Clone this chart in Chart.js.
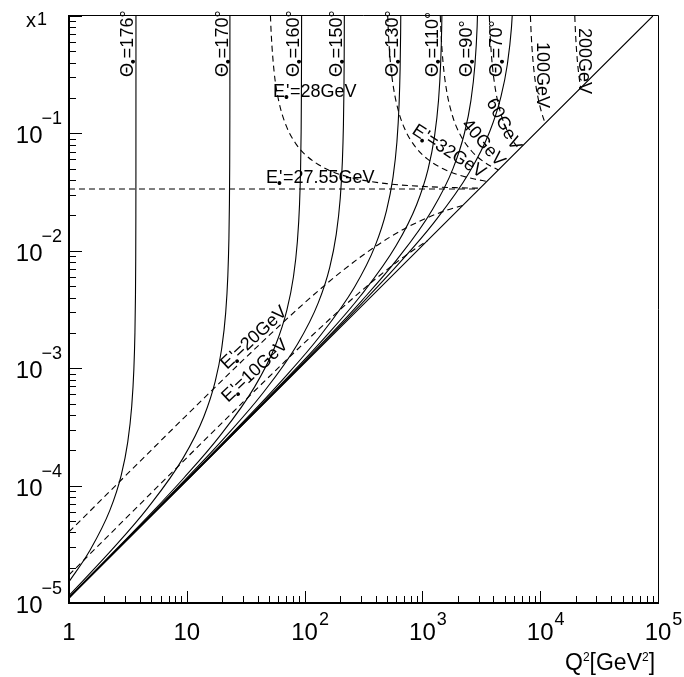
<!DOCTYPE html>
<html>
<head>
<meta charset="utf-8">
<script src="https://cdn.jsdelivr.net/npm/chart.js@4/dist/chart.umd.min.js"></script>
<style>
  html, body { margin: 0; padding: 0; background: #fff; }
  #wrap { width: 684px; height: 677px; }
</style>
</head>
<body>
<div id="wrap"><canvas id="c" width="684" height="677"></canvas></div>
<script>
// HERA kinematic plane (Ee = 27.55 GeV, Ep = 820 GeV): x versus Q^2
// Points are [Q^2 in GeV^2, x]

// kinematic limit y = 1
const kinLimit = [[1, 1.1066e-5], [90364, 1.0]];

// constant electron scattering angle (solid)
const theta176 = [[1,1.5161e-5],[1.4809,2.7314e-5],[2.2214,6.1457e-5],[2.7767,1.2291e-4],[3.1470,2.3217e-4],[3.4061,4.7117e-4],[3.5542,9.833e-4],[3.6283,2.0076e-3],[3.6653,4.0561e-3],[3.6838,8.1532e-3],[3.6949,2.0445e-2],[3.6986,4.0930e-2],[3.7019,0.40967],[3.7023,4.097]];
const theta170 = [[1,1.1564e-5],[2.3238,2.8573e-5],[4.6476,6.429e-5],[9.2952,1.7144e-4],[13.943,3.8574e-4],[17.429,7.7148e-4],[19.752,1.4573e-3],[21.379,2.9573e-3],[22.308,6.1718e-3],[22.773,1.2601e-2],[23.006,2.5459e-2],[23.122,5.1175e-2],[23.192,0.12832],[23.215,0.25690],[23.236,2.5713]];
const theta160 = [[1,1.1185e-5],[4.7195,5.4977e-5],[9.439,1.1606e-4],[18.878,2.6114e-4],[37.756,6.9637e-4],[56.634,1.5668e-3],[70.793,3.1337e-3],[80.232,5.9191e-3],[86.839,1.2012e-2],[90.614,2.5069e-2],[92.502,5.1183e-2],[93.446,0.10341],[93.918,0.20787],[94.201,0.52123],[94.296,1.0435]];
const theta150 = [[1,1.1117e-5],[10.899,1.2696e-4],[21.797,2.6802e-4],[43.594,6.0305e-4],[87.188,1.6081e-3],[130.78,3.6183e-3],[163.48,7.2366e-3],[185.27,1.3669e-2],[200.53,2.7740e-2],[209.25,5.7893e-2],[213.61,0.11820],[215.79,0.23881],[216.88,0.48003],[217.53,1.2037]];
const theta130 = [[1,1.1083e-5],[33.008,3.8450e-4],[66.016,8.1172e-4],[132.03,1.8264e-3],[264.06,4.8703e-3],[396.10,1.0958e-2],[495.12,2.1917e-2],[561.14,4.1398e-2],[607.35,8.4013e-2],[633.75,0.17533],[646.96,0.35797],[653.56,0.72324],[656.86,1.4538]];
const theta110 = [[1,1.1074e-5],[74.425,8.6695e-4],[148.85,1.8302e-3],[297.70,4.1180e-3],[595.40,1.0981e-2],[893.10,2.4708e-2],[1116.4,4.9416e-2],[1265.2,9.3341e-2],[1369.4,0.18943],[1429.0,0.39533],[1458.7,0.80713],[1473.6,1.6307]];
const theta90  = [[1,1.1070e-5],[151.80,1.7683e-3],[303.60,3.7331e-3],[607.20,8.3995e-3],[1214.4,2.2399e-2],[1821.6,5.0397e-2],[2277.0,0.10079],[2580.6,0.19039],[2793.1,0.38638],[2914.6,0.80635],[2975.3,1.6463]];
const theta70  = [[1,1.1068e-5],[123.85,1.3985e-3],[309.62,3.6066e-3],[619.23,7.6140e-3],[1238.5,1.7132e-2],[2476.9,4.5684e-2],[3715.4,0.10279],[4644.2,0.20558],[5263.5,0.38831],[5696.9,0.78805],[5944.6,1.6446]];

// constant scattered electron energy (dashed)
const e10   = [[1,1.7363e-5],[10,1.7283e-4],[30,5.1320e-4],[100,1.6518e-3],[200,3.1488e-3],[400,5.7580e-3],[700,8.9289e-3],[1102,1.2195e-2]];
const e20   = [[1,4.0333e-5],[10,3.9902e-4],[30,1.1693e-3],[100,3.6049e-3],[200,6.5112e-3],[400,1.0908e-2],[700,1.5351e-2],[1100,1.9129e-2],[1600,2.2104e-2],[2204,2.4390e-2]];
const e2755 = [[1,3.3598e-2],[3036,3.3598e-2]];
const e28   = [[51.3,1.0079],[52,0.72493],[55,0.34157],[60,0.19365],[70,0.11523],[85,0.080652],[100,0.066649],[150,0.050192],[250,0.041912],[500,0.037297],[1000,0.035351],[2000,0.034452],[3085.6,0.034147]];
const e32   = [[507.44,1.0],[510,0.87378],[520,0.59003],[540,0.36571],[570,0.24056],[620,0.16072],[700,0.11220],[850,0.079414],[1100,0.060625],[1500,0.049917],[2000,0.044512],[2700,0.041054],[3526.4,0.039025]];
const e40   = [[1419.69,1.0],[1430,0.82824],[1450,0.62449],[1500,0.39369],[1600,0.23576],[1800,0.14130],[2100,0.096916],[2600,0.071135],[3300,0.057507],[4408,0.048781]];
const e60   = [[3700.3,1.0],[3720,0.86788],[3760,0.68653],[3850,0.47207],[4000,0.31695],[4300,0.19954],[4800,0.13176],[5600,0.092958],[6612,0.073171]];
const e100  = [[8261.6,1.0],[8300,0.88245],[8400,0.67840],[8600,0.46906],[9000,0.29762],[9600,0.19959],[10300,0.14942],[11020,0.12195]];
const e200  = [[19665,1.0],[19750,0.88948],[20000,0.67465],[20400,0.49097],[21000,0.35348],[21500,0.28940],[22040,0.24391]];

const solidCurves  = [kinLimit, theta176, theta170, theta160, theta150, theta130, theta110, theta90, theta70];
const dashedCurves = [e10, e20, e2755, e28, e32, e40, e60, e100, e200];

// axis ticks and their labels
const xMajor = [1, 10, 100, 1000, 10000, 100000];
const xTickText = [['1', ''], ['10', ''], ['10', '2'], ['10', '3'], ['10', '4'], ['10', '5']];
const yMajor = [1e-5, 1e-4, 1e-3, 1e-2, 1e-1];
const yTickText = [['10', '\u22125'], ['10', '\u22124'], ['10', '\u22123'], ['10', '\u22122'], ['10', '\u22121']];

// curve annotations: [angle label, Q^2 anchor]
const thetaLabels = [['176', 3.494], ['170', 22.37], ['160', 89.65], ['150', 207.7], ['130', 620.8], ['110', 1356], ['90', 2637], ['70', 4740]];
const thetaLabelX = 0.302;
// [energy text, Q^2 anchor, x anchor, rotation in degrees, with "E'=" prefix]
const energyLabels = [
  ['28', 53.9, 0.2042, 0, true],
  ['27.55', 47.0, 0.03781, 0, true],
  ['32', 800.5, 0.1008, 33, true],
  ['40', 2127, 0.1179, 49, false],
  ['60', 3467, 0.1852, 62, false],
  ['100', 9393, 0.6005, 90, false],
  ['200', 21350, 0.7901, 90, false],
  ['20', 21.94, 9.654e-4, -43, true],
  ['10', 22.37, 5.053e-4, -43, true]
];

const FONT = '"Liberation Sans", Arial, Helvetica, sans-serif';
const LABEL_PX = 18;

function toXY(pts) { return pts.map(p => ({ x: p[0], y: p[1] })); }

const datasets = [];
solidCurves.forEach(c => datasets.push({
  data: toXY(c), borderColor: '#000', borderWidth: 1.1, pointRadius: 0,
  fill: false, cubicInterpolationMode: 'monotone'
}));
dashedCurves.forEach(c => datasets.push({
  data: toXY(c), borderColor: '#000', borderWidth: 1.1, borderDash: [6, 4], pointRadius: 0,
  fill: false, cubicInterpolationMode: 'monotone'
}));

// draws a run of text pieces along a baseline; a piece with stack:true
// does not advance, so the next piece sits on top of it (sub + superscript)
function drawRich(ctx, parts, x, y, angle) {
  ctx.save();
  ctx.translate(x, y);
  ctx.rotate(angle * Math.PI / 180);
  ctx.textAlign = 'left';
  ctx.textBaseline = 'alphabetic';
  let cx = 0, held = 0;
  for (const p of parts) {
    ctx.font = p.size + 'px ' + FONT;
    const w = ctx.measureText(p.t).width;
    ctx.fillText(p.t, cx + (p.dx || 0), p.dy || 0);
    if (p.stack) { held = w; }
    else { cx += Math.max(w, held); held = 0; }
  }
  ctx.restore();
}

function thetaParts(deg) {
  return [
    { t: '\u0398', size: LABEL_PX },
    { t: '\u2022', size: 14, dy: 5, dx: -1 },
    { t: '=' + deg + '\u00b0', size: LABEL_PX }
  ];
}
function energyParts(val, prefix) {
  if (!prefix) return [{ t: val + 'GeV', size: LABEL_PX }];
  return [
    { t: 'E', size: LABEL_PX },
    { t: '\u2022', size: 14, dy: 5, dx: -1, stack: true },
    { t: "'", size: LABEL_PX, dx: 1 },
    { t: '=' + val + 'GeV', size: LABEL_PX }
  ];
}

const framePlugin = {
  id: 'frameAndLabels',
  afterDraw(chart) {
    const ctx = chart.ctx;
    const a = chart.chartArea;
    const xs = chart.scales.x, ys = chart.scales.y;
    ctx.save();
    ctx.strokeStyle = '#000';
    ctx.fillStyle = '#000';

    // frame: thin top/right, heavier axes
    ctx.lineWidth = 1;
    ctx.beginPath();
    ctx.moveTo(a.left, a.top - 0.5); ctx.lineTo(a.right + 0.5, a.top - 0.5);
    ctx.lineTo(a.right + 0.5, a.bottom);
    ctx.stroke();
    ctx.lineWidth = 2;
    ctx.beginPath();
    ctx.moveTo(a.left, a.top - 1); ctx.lineTo(a.left, a.bottom); ctx.lineTo(a.right + 1, a.bottom);
    ctx.stroke();

    // ticks pointing into the plot
    ctx.lineWidth = 1;
    ctx.beginPath();
    for (let i = 0; i < xMajor.length; i++) {
      const px = Math.round(xs.getPixelForValue(xMajor[i])) + 0.5;
      ctx.moveTo(px, a.bottom); ctx.lineTo(px, a.bottom - 12);
      if (i < xMajor.length - 1) {
        for (let m = 2; m <= 9; m++) {
          const q = Math.round(xs.getPixelForValue(xMajor[i] * m)) + 0.5;
          ctx.moveTo(q, a.bottom); ctx.lineTo(q, a.bottom - 7);
        }
      }
    }
    const yAll = yMajor.concat([1]);
    for (let i = 0; i < yAll.length; i++) {
      const py = Math.round(ys.getPixelForValue(yAll[i])) + 0.5;
      ctx.moveTo(a.left, py); ctx.lineTo(a.left + 13, py);
      if (i < yAll.length - 1) {
        for (let m = 2; m <= 9; m++) {
          const q = Math.round(ys.getPixelForValue(yAll[i] * m)) + 0.5;
          ctx.moveTo(a.left, q); ctx.lineTo(a.left + 7, q);
        }
      }
    }
    ctx.stroke();

    // x tick labels
    ctx.textBaseline = 'alphabetic';
    for (let i = 0; i < xMajor.length; i++) {
      const px = xs.getPixelForValue(xMajor[i]);
      const [base, exp] = xTickText[i];
      ctx.font = '24px ' + FONT;
      ctx.textAlign = 'center';
      ctx.fillText(base, px, a.bottom + 37);
      if (exp) {
        const bw = ctx.measureText(base).width;
        ctx.font = '18px ' + FONT;
        ctx.textAlign = 'left';
        ctx.fillText(exp, px + bw / 2 + 1, a.bottom + 22);
      }
    }
    // y tick labels, right aligned against the axis
    for (let i = 0; i < yMajor.length; i++) {
      const py = ys.getPixelForValue(yMajor[i]);
      const [base, exp] = yTickText[i];
      const right = a.left - 7;
      ctx.font = '18px ' + FONT;
      ctx.textAlign = 'right';
      const ew = ctx.measureText(exp).width;
      ctx.fillText(exp, right, py - 9);
      ctx.font = '24px ' + FONT;
      ctx.fillText(base, right - ew + 1, py + 10);
    }

    // axis titles
    ctx.textAlign = 'left';
    ctx.font = '20px ' + FONT;
    ctx.fillText('x', a.left - 43, a.top + 11);
    ctx.font = '18px ' + FONT;
    ctx.fillText('1', a.left - 32, a.top + 9);

    drawRich(ctx, [
      { t: 'Q', size: 23 }, { t: '2', size: 12, dy: -9 },
      { t: '[GeV', size: 23 }, { t: '2', size: 12, dy: -9 }, { t: ']', size: 23 }
    ], a.right - 93, a.bottom + 67, 0);

    // curve annotations
    const ty = ys.getPixelForValue(thetaLabelX);
    thetaLabels.forEach(([deg, q2]) => {
      drawRich(ctx, thetaParts(deg), xs.getPixelForValue(q2), ty, -90);
    });
    energyLabels.forEach(([val, q2, xv, ang, pre]) => {
      drawRich(ctx, energyParts(val, pre), xs.getPixelForValue(q2), ys.getPixelForValue(xv), ang);
    });

    ctx.restore();
  }
};

new Chart(document.getElementById('c'), {
  type: 'line',
  data: { datasets },
  options: {
    responsive: false,
    animation: false,
    events: [],
    parsing: true,
    layout: { padding: { left: 69, right: 26, top: 16, bottom: 74 } },
    plugins: { legend: { display: false }, tooltip: { enabled: false } },
    scales: {
      x: { type: 'logarithmic', min: 1, max: 1e5, display: false },
      y: { type: 'logarithmic', min: 1e-5, max: 1, display: false }
    }
  },
  plugins: [framePlugin]
});
</script>
</body>
</html>
